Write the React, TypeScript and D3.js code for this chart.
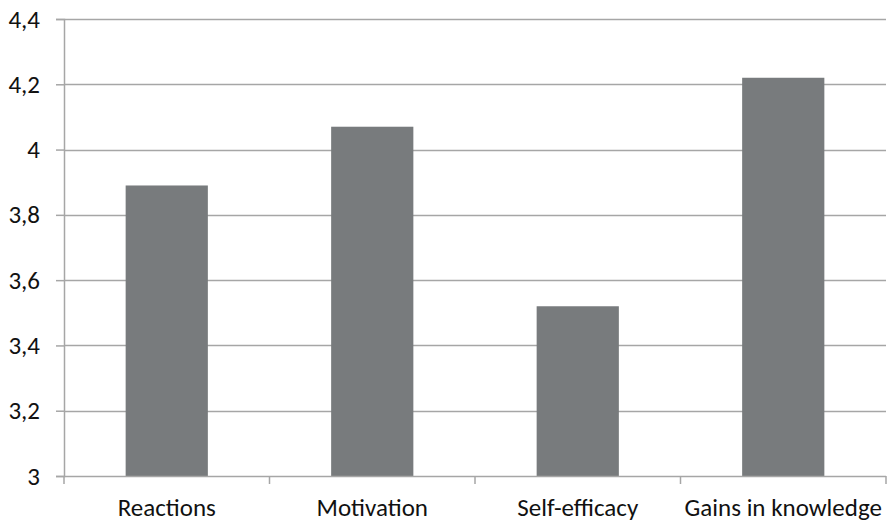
import React, { useRef, useEffect } from "react";
import * as d3 from "d3";

const categories = ["Reactions", "Motivation", "Self-efficacy", "Gains in knowledge"];
const values = [3.89, 4.07, 3.52, 4.22];
const yTicks = [3, 3.2, 3.4, 3.6, 3.8, 4, 4.2, 4.4];

const App = () => {
  const svgRef = useRef<SVGSVGElement>(null);

  const width = 888;
  const height = 522;
  const left = 64;
  const right = 886;
  const top = 19;
  const bottom = 476;

  useEffect(() => {
    const svg = d3.select(svgRef.current);
    svg.selectAll("*").remove();

    const x = d3.scaleBand().domain(categories).range([left, right]).paddingInner(0.6).paddingOuter(0.3);
    const y = d3.scaleLinear().domain([3, 4.4]).range([bottom, top]);
    const fmt = (d: number) => d3.format("")(+d.toFixed(1)).replace(".", ",");
    const font = "Carlito, 'Open Sans', 'Noto Sans', sans-serif";

    // gridlines
    svg.append("g")
      .selectAll("line")
      .data(yTicks.slice(1))
      .enter()
      .append("line")
      .attr("x1", left)
      .attr("x2", right)
      .attr("y1", (d) => Math.round(y(d)) + 0.5)
      .attr("y2", (d) => Math.round(y(d)) + 0.5)
      .attr("stroke", "#a6a6a6")
      .attr("stroke-width", 1.5);

    // bars
    svg.append("g")
      .selectAll("rect")
      .data(values)
      .enter()
      .append("rect")
      .attr("x", (d, i) => x(categories[i]) as number)
      .attr("width", x.bandwidth())
      .attr("y", (d) => y(d))
      .attr("height", (d) => bottom - y(d))
      .attr("fill", "#787b7d");

    // y axis
    const yAxis = svg.append("g")
      .attr("transform", `translate(${left},0)`)
      .call(d3.axisLeft(y).tickValues(yTicks).tickSize(8).tickPadding(16).tickFormat((d) => fmt(d as number)));
    yAxis.select(".domain").attr("stroke", "#a6a6a6").attr("stroke-width", 1.5);
    yAxis.selectAll(".tick line").attr("stroke", "#a6a6a6").attr("stroke-width", 1.5);
    yAxis.selectAll(".tick text")
      .attr("font-family", font)
      .attr("font-size", 25)
      .attr("fill", "#111");

    // x axis
    const boundaries = d3.range(categories.length + 1).map((i) => left + i * x.step());
    const xg = svg.append("g");
    xg.append("line")
      .attr("x1", left)
      .attr("x2", right)
      .attr("y1", bottom + 0.5)
      .attr("y2", bottom + 0.5)
      .attr("stroke", "#a6a6a6")
      .attr("stroke-width", 1.5);
    xg.selectAll("line.tk")
      .data(boundaries)
      .enter()
      .append("line")
      .attr("class", "tk")
      .attr("x1", (d) => d)
      .attr("x2", (d) => d)
      .attr("y1", bottom)
      .attr("y2", bottom + 8)
      .attr("stroke", "#a6a6a6")
      .attr("stroke-width", 1.5);
    xg.selectAll("text")
      .data(categories)
      .enter()
      .append("text")
      .attr("x", (d) => (x(d) as number) + x.bandwidth() / 2)
      .attr("y", 516)
      .attr("text-anchor", "middle")
      .attr("font-family", font)
      .attr("font-size", 25)
      .attr("fill", "#111")
      .text((d) => d);
  }, []);

  return (
    <svg ref={svgRef} width={width} height={height} style={{ position: "absolute", left: 0, top: 0, background: "#fff" }}></svg>
  );
};

export default App;
